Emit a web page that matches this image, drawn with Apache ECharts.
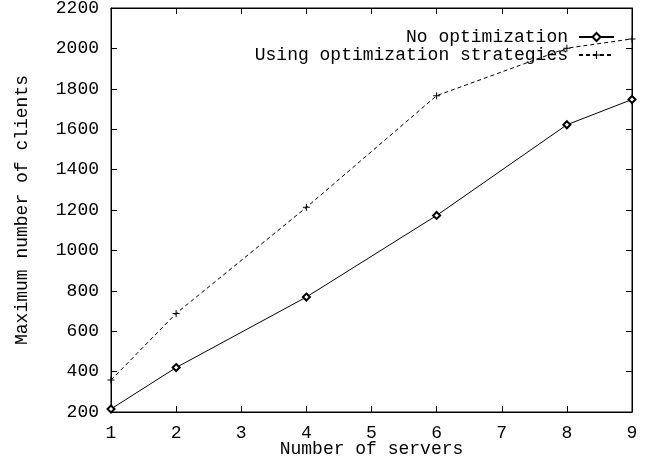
<!DOCTYPE html>
<html><head><meta charset="utf-8">
<script src="https://cdn.jsdelivr.net/npm/echarts@6/dist/echarts.min.js"></script>
<style>html,body{margin:0;padding:0;background:#fff}#c{width:645px;height:461px}</style>
</head><body><div id="c"></div>
<script>
const servers = [1, 2, 4, 6, 8, 9];
const noOptimization = [215, 420, 769, 1173, 1622, 1747];
const withOptimization = [358, 688, 1213, 1766, 2001, 2047];
const seriesNames = ['No optimization', 'Using optimization strategies'];
const xTicks = [1, 2, 3, 4, 5, 6, 7, 8, 9];
const yTicks = [200, 400, 600, 800, 1000, 1200, 1400, 1600, 1800, 2000, 2200];

const font = 'Liberation Mono';
const fs = 18;
const plus = 'path://M3,0h1v3h3v1h-3v3h-1v-3h-3v-1h3z';

const chart = echarts.init(document.getElementById('c'), null, {renderer: 'canvas'});
const axisCommon = {
  type: 'value', splitLine: {show: false},
  axisLine: {show: true, lineStyle: {color: '#000', width: 1}},
  axisTick: {show: true, inside: true, length: 6, lineStyle: {color: '#000'}},
};
chart.setOption({
  animation: false,
  backgroundColor: '#fff',
  grid: {left: 111, top: 8, right: 13, bottom: 49, show: true, borderColor: '#000', borderWidth: 1,
         containLabel: false, outerBoundsMode: 'none'},
  legend: {
    data: seriesNames, orient: 'vertical', right: 25, top: 23, align: 'right',
    itemWidth: 35, itemHeight: 10, itemGap: 0,
    textStyle: {fontFamily: font, fontSize: fs, color: '#000', lineHeight: 18, padding: [0, 6, 0, 0]},
    inactiveColor: '#000'
  },
  xAxis: [
    Object.assign({}, axisCommon, {
      min: xTicks[0], max: xTicks[xTicks.length - 1], interval: 1,
      name: 'Number of servers', nameLocation: 'middle', nameGap: 28, nameMoveOverlap: false,
      nameTextStyle: {fontFamily: font, fontSize: fs, color: '#000'},
      axisLabel: {fontFamily: font, fontSize: fs, color: '#000', margin: 12}
    }),
    Object.assign({}, axisCommon, {
      position: 'top', min: xTicks[0], max: xTicks[xTicks.length - 1], interval: 1,
      axisLabel: {show: false}
    })
  ],
  yAxis: [
    Object.assign({}, axisCommon, {
      min: yTicks[0], max: yTicks[yTicks.length - 1], interval: 200,
      name: 'Maximum number of clients', nameLocation: 'middle', nameGap: 80, nameRotate: 90,
      nameTextStyle: {fontFamily: font, fontSize: fs, color: '#000'},
      axisLabel: {fontFamily: font, fontSize: fs, color: '#000', margin: 12, formatter: v => String(v)}
    }),
    Object.assign({}, axisCommon, {
      position: 'right', min: yTicks[0], max: yTicks[yTicks.length - 1], interval: 200,
      axisLabel: {show: false}
    })
  ],
  series: [
    {
      name: seriesNames[0], type: 'line',
      data: servers.map((x, i) => [x, noOptimization[i]]),
      symbol: 'emptyDiamond', symbolSize: 7, showAllSymbol: true,
      itemStyle: {color: '#000', borderColor: '#000', borderWidth: 1},
      lineStyle: {color: '#000', width: 1}
    },
    {
      name: seriesNames[1], type: 'line',
      data: servers.map((x, i) => [x, withOptimization[i]]),
      symbol: plus, symbolSize: 7, showAllSymbol: true,
      itemStyle: {color: '#000'},
      lineStyle: {color: '#000', width: 1, type: [4, 3]}
    }
  ]
});
</script></body></html>
